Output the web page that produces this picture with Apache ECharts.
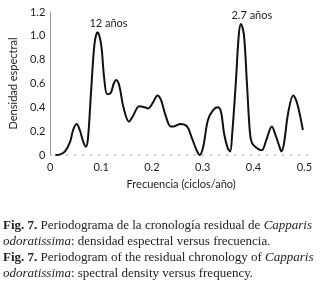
<!DOCTYPE html>
<html>
<head>
<meta charset="utf-8">
<script src="https://cdn.jsdelivr.net/npm/echarts@6/dist/echarts.min.js"></script>
<style>
  html, body { margin: 0; padding: 0; background: #fff; }
  #chart { width: 324px; height: 285px; }
</style>
</head>
<body>
<div id="chart"></div>
<script>
const freqs = [0.010, 0.020, 0.029, 0.039, 0.045, 0.052, 0.058, 0.065, 0.070, 0.074,
  0.080, 0.087, 0.093, 0.100, 0.106, 0.112, 0.119, 0.125, 0.130, 0.136,
  0.144, 0.155, 0.163, 0.175, 0.186, 0.192, 0.202, 0.211, 0.218, 0.227,
  0.237, 0.243, 0.256, 0.269, 0.278, 0.288, 0.294, 0.301, 0.310, 0.320,
  0.330, 0.336, 0.342, 0.349, 0.354, 0.358, 0.365, 0.371, 0.375, 0.381,
  0.387, 0.393, 0.397, 0.406, 0.416, 0.425, 0.436, 0.443, 0.451, 0.455,
  0.460, 0.468, 0.478, 0.486, 0.497];
const density = [0.00, 0.005, 0.03, 0.11, 0.21, 0.26, 0.21, 0.11, 0.07, 0.13,
  0.51, 0.93, 1.03, 0.93, 0.65, 0.51, 0.52, 0.60, 0.63, 0.58,
  0.40, 0.28, 0.33, 0.41, 0.40, 0.39, 0.44, 0.50, 0.46, 0.33,
  0.24, 0.24, 0.26, 0.24, 0.15, 0.04, 0.00, 0.07, 0.29, 0.375,
  0.40, 0.36, 0.18, 0.06, 0.03, 0.18, 0.60, 1.01, 1.10, 1.01,
  0.60, 0.18, 0.10, 0.06, 0.04, 0.125, 0.24, 0.17, 0.07, 0.03,
  0.10, 0.35, 0.50, 0.43, 0.21];

// picos anotados
const peakLabels = ['12 años', '2.7 años'];
const peakFreqs = [0.093, 0.375];
const peakValues = [1.03, 1.10];

// leyenda de la figura
const captionLines = [
  '{b|Fig. 7.} Periodograma de la cronología residual de {i|Capparis}',
  '{i|odoratissima}: densidad espectral versus frecuencia.',
  '{b|Fig. 7.} Periodogram of the residual chronology of {i|Capparis}',
  '{i|odoratissima}: spectral density versus frequency.'
];

const sansFont = 'Lato';
const serifFont = 'Liberation Serif';

const chart = echarts.init(document.getElementById('chart'), null, { renderer: 'canvas' });

const option = {
  animation: false,
  backgroundColor: '#fff',
  grid: { left: 43, right: 12, top: 12, bottom: 130 },
  xAxis: {
    type: 'value',
    min: 0,
    max: 0.515,
    interval: 0.1,
    name: 'Frecuencia (ciclos/año)',
    nameLocation: 'middle',
    nameGap: 24,
    nameTextStyle: { fontFamily: sansFont, fontSize: 11, color: '#222' },
    axisLine: { show: true, lineStyle: { color: '#c4c4c4', width: 1.5, type: [1.5, 6.5] } },
    axisTick: { show: false },
    splitLine: { show: false },
    axisLabel: {
      fontFamily: sansFont, fontSize: 11, color: '#222', margin: 7,
      formatter: v => (Math.abs(v * 10 - Math.round(v * 10)) < 1e-6 && v <= 0.5) ? (v === 0 ? '0' : v.toFixed(1)) : ''
    }
  },
  yAxis: {
    type: 'value',
    min: 0,
    max: 1.2,
    interval: 0.2,
    name: 'Densidad espectral',
    nameLocation: 'middle',
    nameGap: 20,
    nameTextStyle: { fontFamily: sansFont, fontSize: 11, color: '#222' },
    axisLine: { show: true, lineStyle: { color: '#999', width: 1 } },
    axisTick: { show: false },
    splitLine: { show: false },
    axisLabel: {
      fontFamily: sansFont, fontSize: 11, color: '#222', margin: 5,
      formatter: v => v === 0 ? '0' : v.toFixed(1)
    }
  },
  series: [{
    type: 'line',
    data: freqs.map((f, i) => [f, density[i]]),
    smooth: 0.35,
    symbol: 'none',
    lineStyle: { color: '#111', width: 2 },
    markPoint: {
      symbol: 'circle',
      symbolSize: 0,
      label: {
        show: true, position: 'top', distance: 3, offset: [11, 0],
        fontFamily: sansFont, fontSize: 11, color: '#222',
        formatter: p => p.name
      },
      data: peakLabels.map((t, i) => ({ name: t, coord: [peakFreqs[i], peakValues[i]] }))
    }
  }],
  graphic: [{
    type: 'text',
    left: 3,
    top: 218,
    style: {
      text: captionLines.join('\n'),
      fontFamily: serifFont,
      fontSize: 13,
      lineHeight: 16,
      fill: '#222',
      rich: {
        b: { fontFamily: serifFont, fontSize: 13, fontWeight: 'bold', lineHeight: 16, fill: '#222' },
        i: { fontFamily: serifFont, fontSize: 13, fontStyle: 'italic', lineHeight: 16, fill: '#222' }
      }
    }
  }]
};

chart.setOption(option);
</script>
</body>
</html>
